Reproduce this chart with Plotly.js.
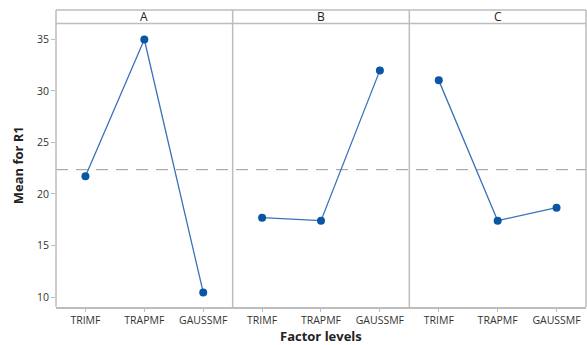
<!DOCTYPE html>
<html>
<head>
<meta charset="utf-8">
<script src="https://cdn.plot.ly/plotly-3.0.1.min.js"></script>
<style>html,body{margin:0;padding:0;background:#fff;}#chart{width:587px;height:345px;}</style>
</head>
<body>
<div id="chart"></div>
<script>
var levels = ["TRIMF", "TRAPMF", "GAUSSMF"];
var factors = ["A", "B", "C"];
var meanA = [21.72, 35.0, 10.44];
var meanB = [17.70, 17.41, 32.0];
var meanC = [31.03, 17.41, 18.67];
var grandMean = 22.36;
var yTicks = [10, 15, 20, 25, 30, 35];

var series = [meanA, meanB, meanC];
var axisIds = ["x", "x2", "x3"];
var lineColor = "#3a72b8";
var markerColor = "#0b56a4";
var frame = "#bdbdbd";
var topY = 0.9545;

var traces = series.map(function (vals, i) {
  return {
    x: levels, y: vals, xaxis: axisIds[i], yaxis: "y",
    type: "scatter", mode: "lines+markers",
    line: {color: lineColor, width: 1.3},
    marker: {color: markerColor, size: 8},
    hoverinfo: "skip", showlegend: false
  };
});

var tickFont = {family: "Open Sans, Noto Sans, sans-serif", size: 10.5, color: "#333"};
function xax(i) {
  return {
    domain: [i / 3, (i + 1) / 3],
    type: "category", range: [-0.5, 2.5],
    showgrid: false, zeroline: false,
    showline: true, linecolor: frame, linewidth: 1.5,
    ticks: "outside", ticklen: 3, tickcolor: frame,
    tickfont: tickFont, anchor: "y", fixedrange: true
  };
}

var shapes = [
  {type: "line", xref: "paper", yref: "y", x0: 0, x1: 1, y0: grandMean, y1: grandMean,
   line: {color: "#999", width: 1, dash: "12px,8px"}, layer: "below"},
  {type: "line", xref: "paper", yref: "paper", x0: 0, x1: 1, y0: 1, y1: 1, line: {color: frame, width: 1.5}},
  {type: "line", xref: "paper", yref: "paper", x0: 0, x1: 1, y0: topY, y1: topY, line: {color: frame, width: 1.5}}
];
[0, 1 / 3, 2 / 3, 1].forEach(function (xp) {
  shapes.push({type: "line", xref: "paper", yref: "paper", x0: xp, x1: xp, y0: 0, y1: 1,
    line: {color: frame, width: 1.5}});
});

var annotations = factors.map(function (f, i) {
  return {text: f, xref: "paper", yref: "paper", x: (i + 0.5) / 3, y: (1 + topY) / 2,
    showarrow: false, xanchor: "center", yanchor: "middle",
    font: {family: "Open Sans, Noto Sans, sans-serif", size: 12, color: "#222"}};
});
annotations.push({text: "<b>Factor levels</b>", xref: "paper", yref: "paper", x: 0.5, y: -0.099,
  showarrow: false, xanchor: "center", yanchor: "middle",
  font: {family: "Open Sans, Noto Sans, sans-serif", size: 13, color: "#222"}});

var layout = {
  width: 587, height: 345,
  margin: {l: 56, r: 1, t: 10, b: 38},
  paper_bgcolor: "#fff", plot_bgcolor: "#fff",
  xaxis: xax(0), xaxis2: xax(1), xaxis3: xax(2),
  yaxis: {
    domain: [0, topY], range: [9.03, 36.55],
    tickvals: yTicks, showgrid: false, zeroline: false,
    showline: false, ticks: "outside", ticklen: 4, tickcolor: frame,
    tickfont: tickFont, fixedrange: true,
    title: {text: "<b>Mean for R1</b>", standoff: 10,
      font: {family: "Open Sans, Noto Sans, sans-serif", size: 13, color: "#222"}}
  },
  shapes: shapes, annotations: annotations
};

Plotly.newPlot("chart", traces, layout, {displayModeBar: false, staticPlot: true});
</script>
</body>
</html>
